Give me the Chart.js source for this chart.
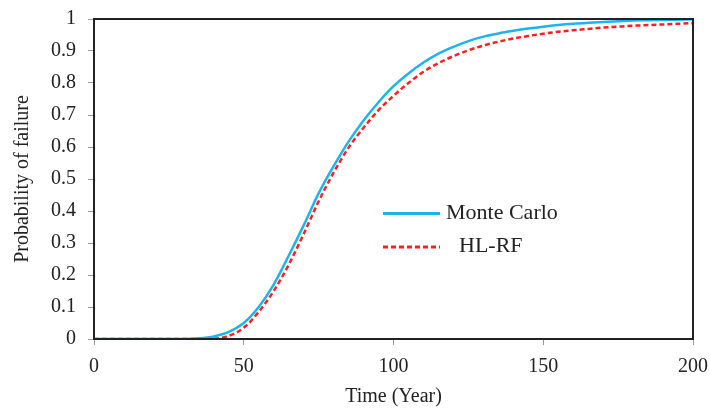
<!DOCTYPE html>
<html>
<head>
<meta charset="utf-8">
<script src="https://cdn.jsdelivr.net/npm/chart.js@4.4.1/dist/chart.umd.min.js"></script>
<style>
    body{ margin:0; background:#fff; }
    #wrap{ position:relative; width:710px; height:412px; }
    .legend{ position:absolute; font-family:"Liberation Serif","Times New Roman",serif; font-size:22px; color:#222; white-space:nowrap; }
    .swatch{ position:absolute; width:57px; height:0; }
</style>
</head>
<body>
<div id="wrap">
    <canvas id="grafik" width="710" height="412"></canvas>

    <div class="swatch" style="left:383px; top:212px; border-top:3px solid #1eb3ea;"></div>
    <div class="legend" style="left:446px; top:199px;">Monte Carlo</div>

    <svg class="swatch" style="left:383px; top:245px; height:4px;" width="57" height="4">
        <line x1="0" y1="2" x2="57" y2="2" stroke="#ff1f1f" stroke-width="3" stroke-dasharray="5,3"/>
    </svg>
    <div class="legend" style="left:459px; top:232px;">HL-RF</div>
</div>

<script>
// tahun (sumbu x)
const tahun = [
    0, 5, 10, 15, 20, 25, 30, 35, 40, 45,
    50, 55, 60, 65, 70, 75, 80, 85, 90, 95,
    100, 105, 110, 115, 120, 125, 130, 135, 140, 145,
    150, 155, 160, 165, 170, 175, 180, 185, 190, 195, 200
];

// peluang kegagalan - Monte Carlo
const monteCarlo = [
    0, 0, 0, 0, 0, 0, 0, 0.002, 0.008, 0.022,
    0.05, 0.1, 0.17, 0.26, 0.355, 0.455, 0.54, 0.617, 0.683, 0.74,
    0.79, 0.83, 0.864, 0.892, 0.913, 0.931, 0.945, 0.955, 0.963, 0.97,
    0.976, 0.981, 0.985, 0.988, 0.991, 0.993, 0.995, 0.996, 0.997, 0.998, 0.999
];

// peluang kegagalan - HL-RF
const hlrf = [
    0, 0, 0, 0, 0, 0, 0, 0, 0.001, 0.01,
    0.035, 0.085, 0.15, 0.232, 0.328, 0.43, 0.52, 0.598, 0.66, 0.715,
    0.76, 0.8, 0.835, 0.862, 0.884, 0.902, 0.917, 0.929, 0.939, 0.947,
    0.954, 0.96, 0.965, 0.969, 0.973, 0.976, 0.979, 0.981, 0.983, 0.985, 0.987
];

const tickX = [0, 50, 100, 150, 200];

const fontSerif = "'Liberation Serif','Times New Roman',serif";

const bingkai = {
    id: "bingkai",
    afterDatasetsDraw(chart){
        const a = chart.chartArea;
        const ctx = chart.ctx;
        ctx.save();
        ctx.strokeStyle = "#222";
        ctx.lineWidth = 2;
        ctx.strokeRect(a.left, a.top, a.right - a.left, a.bottom - a.top);
        ctx.restore();
    }
};

new Chart(document.getElementById("grafik"), {
    type: "line",
    data: {
        datasets: [
            {
                label: "Monte Carlo",
                data: tahun.map((t, i) => ({ x: t, y: monteCarlo[i] })),
                borderColor: "#1eb3ea",
                borderWidth: 2.5,
                pointRadius: 0,
                cubicInterpolationMode: "monotone",
                fill: false
            },
            {
                label: "HL-RF",
                data: tahun.map((t, i) => ({ x: t, y: hlrf[i] })),
                borderColor: "#ff1f1f",
                borderWidth: 2.5,
                borderDash: [5, 3],
                pointRadius: 0,
                cubicInterpolationMode: "monotone",
                fill: false
            }
        ]
    },
    options: {
        responsive: false,
        animation: false,
        layout: { padding: { left: 0, top: 19, right: 17, bottom: 0 } },
        plugins: {
            legend: { display: false },
            tooltip: { enabled: false }
        },
        scales: {
            x: {
                type: "linear",
                min: 0,
                max: 200,
                afterFit: s => {
                    s.height = 73;
                    s.paddingLeft = 0;
                    s.paddingRight = 0;
                },
                afterBuildTicks: s => { s.ticks = tickX.map(v => ({ value: v })); },
                border: { display: false },
                grid: { drawOnChartArea: false, drawTicks: true, tickLength: 6, tickColor: "#999" },
                ticks: { color: "#222", font: { family: fontSerif, size: 20 }, padding: 10, maxRotation: 0 },
                title: {
                    display: true,
                    text: "Time (Year)",
                    color: "#222",
                    font: { family: fontSerif, size: 20 },
                    padding: { top: 0, bottom: 3 }
                }
            },
            y: {
                min: 0,
                max: 1,
                afterFit: s => {
                    s.width = 94;
                    s.paddingTop = 0;
                    s.paddingBottom = 0;
                },
                border: { display: false },
                grid: { drawOnChartArea: false, drawTicks: true, tickLength: 6, tickColor: "#999" },
                ticks: {
                    stepSize: 0.1,
                    color: "#222",
                    font: { family: fontSerif, size: 20 },
                    padding: 12,
                    callback: v => String(Number(v.toFixed(1)))
                },
                title: {
                    display: true,
                    text: "Probability of failure",
                    color: "#222",
                    font: { family: fontSerif, size: 20 },
                    padding: { top: 11, bottom: 0 }
                }
            }
        }
    },
    plugins: [bingkai]
});
</script>
</body>
</html>
